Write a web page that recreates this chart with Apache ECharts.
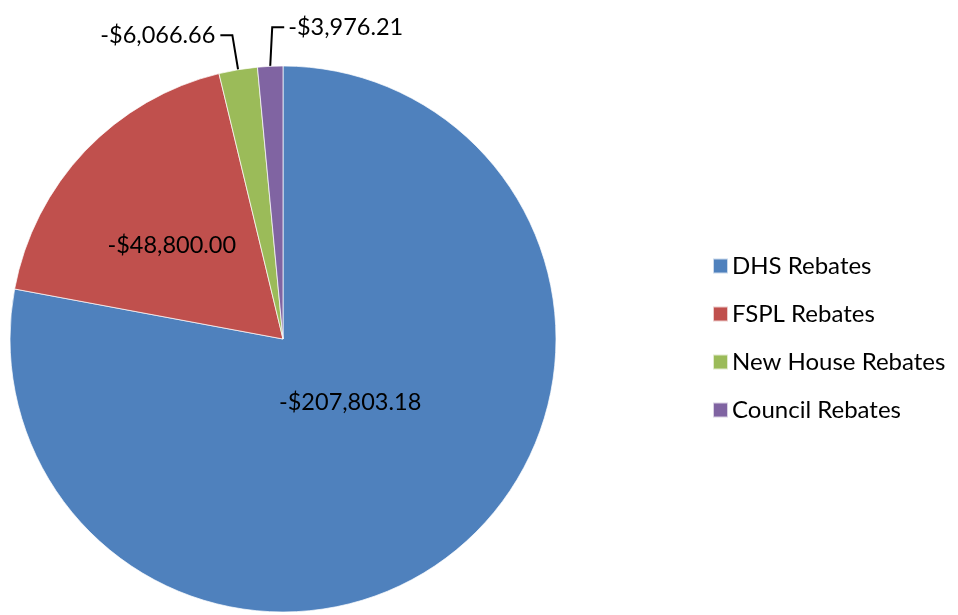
<!DOCTYPE html>
<html>
<head>
<meta charset="utf-8">
<script src="https://cdn.jsdelivr.net/npm/echarts@6/dist/echarts.min.js"></script>
<style>html,body{margin:0;padding:0;background:#fff;}#c{width:958px;height:615px;}</style>
</head>
<body>
<div id="c"></div>
<script>
const categories = ['DHS Rebates', 'FSPL Rebates', 'New House Rebates', 'Council Rebates'];
const values = [-207803.18, -48800.00, -6066.66, -3976.21];
const colors = ['#4F81BD', '#C0504D', '#9BBB59', '#8064A2'];
const insideLabels = [true, true, false, false];

const FONT = 'Lato';
function fmt(v) {
  const s = Math.abs(v).toLocaleString('en-US', {minimumFractionDigits: 2, maximumFractionDigits: 2});
  return (v < 0 ? '-$' : '$') + s;
}

const chart = echarts.init(document.getElementById('c'), null, {renderer: 'canvas'});
const data = categories.map((name, i) => {
  const item = {
    name: name,
    value: Math.abs(values[i]),
    itemStyle: {color: colors[i]}
  };
  if (insideLabels[i]) {
    item.label = {position: 'inside', padding: 0};
    item.labelLine = {show: false};
  }
  return item;
});

chart.setOption({
  animation: false,
  legend: {
    orient: 'vertical',
    left: 707,
    top: 249,
    padding: 5,
    itemWidth: 15,
    itemHeight: 15,
    itemGap: 24,
    icon: 'rect',
    textStyle: {fontFamily: FONT, fontSize: 24, color: '#000', lineHeight: 24, padding: [0, 0, 0, -1]},
    data: categories
  },
  series: [{
    type: 'pie',
    center: [283, 339],
    radius: 273,
    startAngle: 90,
    clockwise: true,
    avoidLabelOverlap: false,
    data: data,
    itemStyle: {borderColor: 'rgba(255,255,255,0.7)', borderWidth: 1},
    label: {
      show: true,
      position: 'outside',
      formatter: function (p) { return fmt(values[p.dataIndex]); },
      fontFamily: FONT,
      fontSize: 23.5,
      color: '#000',
      padding: [0, 0, 12, 0],
      distanceToLabelLine: 5
    },
    labelLine: {
      show: true,
      length: 35,
      length2: 12,
      smooth: false,
      lineStyle: {color: '#000', width: 2}
    },
    emphasis: {disabled: true},
    labelLayout: function (params) {
      if (params.dataIndex === 0) {
        return {dx: -22, dy: -44};
      }
      if (params.dataIndex === 1) {
        return {dx: -10, dy: 2};
      }
      if (params.dataIndex === 3 && params.labelLinePoints) {
        const p0 = params.labelLinePoints[0];
        const p1d = params.labelLinePoints[1];
        const p1 = [p0[0] + 2, p1d[1] - 4];
        const p2 = [p1[0] + 12, p1[1]];
        return {
          x: p2[0] + 4,
          y: p2[1],
          align: 'left',
          verticalAlign: 'middle',
          labelLinePoints: [p0, p1, p2]
        };
      }
      return {};
    }
  }]
});
</script>
</body>
</html>
